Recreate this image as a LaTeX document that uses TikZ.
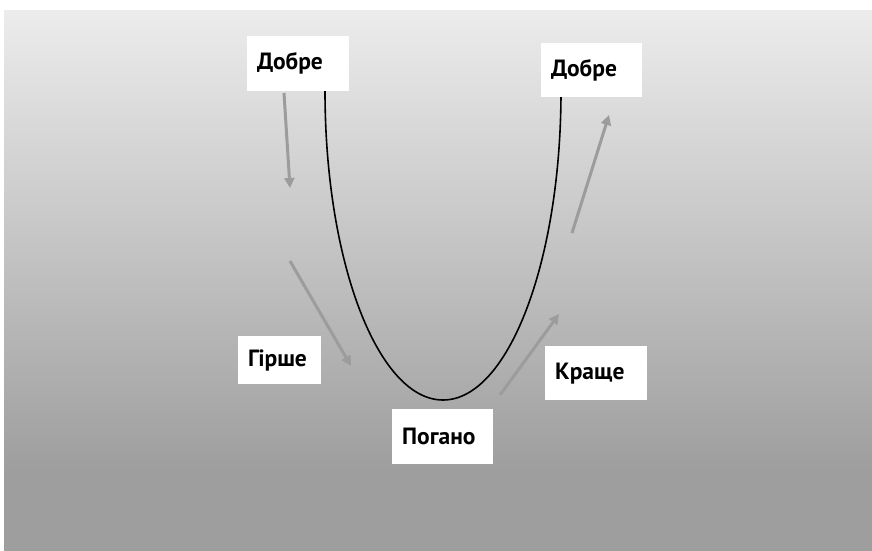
\documentclass[tikz,border=0pt]{standalone}
\usepackage{fontspec}
\setmainfont{PT Sans}
\usetikzlibrary{arrows.meta}
\definecolor{bgtop}{HTML}{ECECEC}
\definecolor{bgbot}{HTML}{9E9E9E}
\definecolor{arr}{HTML}{9C9C9C}
\tikzset{
  lbl/.style={fill=white, anchor=north west, inner xsep=10pt, inner ysep=0pt,
    align=left, font=\fontsize{23.5}{26}\selectfont\bfseries, text=black},
  garrow/.style={draw=arr, line width=3pt, -{Triangle[width=10pt,length=10pt]}},
  ucurve/.style={draw=black, line width=1.6pt}
}
\begin{document}
\begin{tikzpicture}[x=1pt,y=-1pt]
\useasboundingbox (0,0) rectangle (872,551);
\fill[white] (0,0) rectangle (872,551);
\shade[top color=bgtop, bottom color=bgbot] (4,11) rectangle (872,470);
\fill[bgbot] (4,469.5) rectangle (872,551);
% U curve
\coordinate (ul) at (325,91);
\draw[ucurve] (ul) arc[start angle=180, end angle=0, x radius=118, y radius=309] coordinate (ur);
% gray arrows
\coordinate (a1s) at (284,93);  \coordinate (a1e) at (290,188);
\coordinate (a2s) at (290,261); \coordinate (a2e) at (351,366);
\coordinate (a3s) at (500,395); \coordinate (a3e) at (559,314);
\coordinate (a4s) at (572,233); \coordinate (a4e) at (609,115);
\draw[garrow] (a1s) -- (a1e);
\draw[garrow] (a2s) -- (a2e);
\draw[garrow] (a3s) -- (a3e);
\draw[garrow] (a4s) -- (a4e);
% labels
\node[lbl, text width=82pt, minimum height=55pt] (good1) at (247,36) {Добре};
\node[lbl, text width=81pt, minimum height=54pt] (good2) at (541,43) {Добре};
\node[lbl, text width=63pt, minimum height=48pt] (worse) at (238,336) {Гірше};
\node[lbl, text width=82pt, minimum height=54pt] (better) at (545,346) {Краще};
\node[lbl, text width=81pt, minimum height=55pt] (bad) at (392,409) {Погано};
\end{tikzpicture}
\end{document}
